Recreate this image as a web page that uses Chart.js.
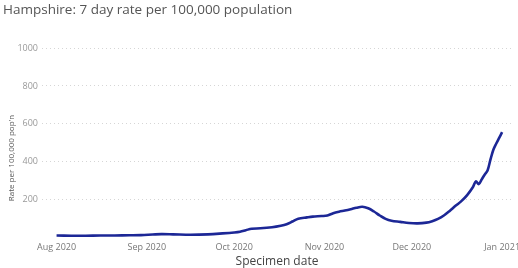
<!DOCTYPE html>
<html lang="en">
<head>
  <meta charset="utf-8">
  <title>Hampshire: 7 day rate per 100,000 population</title>
  <script src="https://cdn.jsdelivr.net/npm/chart.js@4/dist/chart.umd.min.js"></script>
  <style>
    html, body { margin: 0; padding: 0; background: #fff; }
    #wrap { width: 518px; height: 268px; }
  </style>
</head>
<body>
  <div id="wrap"><canvas id="myChart"></canvas></div>

  <script>
    // days counted from 1 Aug 2020
    const days = [0, 5, 10, 15, 20, 25, 29, 33, 36, 40, 46, 52, 57, 61, 63, 65, 67, 70, 74, 77, 79, 81, 83, 86, 88, 91, 93, 95, 97, 99, 101, 103, 105, 107, 109, 111, 113, 115, 118, 121, 124, 127, 129, 131, 133, 135, 137, 139, 141, 143, 144, 145, 146, 147, 148, 149, 150, 151, 152, 153];
    const rates = [8, 7, 7, 8, 8, 9, 10, 13, 15, 14, 12, 14, 19, 24, 28, 36, 44, 46, 52, 60, 68, 82, 97, 104, 108, 111, 114, 126, 134, 140, 147, 155, 160, 152, 135, 114, 96, 86, 80, 74, 72, 76, 84, 96, 114, 138, 165, 190, 222, 265, 295, 280, 305, 330, 352, 410, 462, 495, 525, 555];

    const monthDays = [0, 31, 61, 92, 122, 153];
    const monthLabels = ['Aug 2020', 'Sep 2020', 'Oct 2020', 'Nov 2020', 'Dec 2020', 'Jan 2021'];
    const yTicks = [0, 200, 400, 600, 800, 1000];

    const points = days.map((d, i) => ({ x: d, y: rates[i] }));

    // y axis title, sits a bit below the axis centre like the original
    const yTitle = {
      id: 'yTitle',
      afterDraw(chart) {
        const ctx = chart.ctx;
        ctx.save();
        ctx.translate(12, 158);
        ctx.rotate(-Math.PI / 2);
        ctx.font = '8px "Open Sans"';
        ctx.fillStyle = '#555';
        ctx.textAlign = 'center';
        ctx.textBaseline = 'middle';
        ctx.fillText("Rate per 100,000 pop'n", 0, 0);
        ctx.restore();
      }
    };

    new Chart(document.getElementById('myChart'), {
      type: 'line',
      data: {
        datasets: [{
          data: points,
          borderColor: '#1c2796',
          borderWidth: 2.6,
          pointRadius: 0,
          fill: false,
          tension: 0.35
        }]
      },
      plugins: [yTitle],
      options: {
        responsive: true,
        maintainAspectRatio: false,
        animation: false,
        layout: { padding: { left: 3, right: 6, top: 0, bottom: 0 } },
        plugins: {
          legend: { display: false },
          tooltip: { enabled: false },
          title: {
            display: true,
            align: 'start',
            text: 'Hampshire: 7 day rate per 100,000 population',
            color: '#555',
            font: { family: 'Open Sans', size: 13.5, weight: 'normal' },
            padding: { top: 2, bottom: 30 }
          }
        },
        scales: {
          x: {
            type: 'linear',
            min: -5,
            max: 156.4,
            afterBuildTicks: (scale) => { scale.ticks = monthDays.map(v => ({ value: v })); },
            afterFit: (scale) => { scale.height = 31; scale.paddingLeft = 0; scale.paddingRight = 0; },
            ticks: {
              color: '#777',
              font: { family: 'Open Sans', size: 9 },
              maxRotation: 0,
              padding: 5,
              callback: (v, i) => monthLabels[i]
            },
            grid: { display: false, drawTicks: false },
            border: { display: false },
            title: {
              display: true,
              text: 'Specimen date',
              color: '#444',
              font: { family: 'Open Sans', size: 12, lineHeight: 1 },
              padding: { top: 0, bottom: 0 }
            }
          },
          y: {
            min: 0,
            max: 1000,
            afterBuildTicks: (scale) => { scale.ticks = yTicks.map(v => ({ value: v })); },
            afterFit: (scale) => { scale.width = 39; },
            ticks: {
              color: '#999',
              font: { family: 'Open Sans', size: 9 },
              padding: 4,
              callback: (v) => v === 0 ? '' : v
            },
            grid: {
              color: (ctx) => ctx.tick && ctx.tick.value === 0 ? 'rgba(0,0,0,0)' : '#d6d6d6',
              lineWidth: 1,
              drawTicks: false
            },
            border: { display: false, dash: [1, 3] }
          }
        }
      }
    });
  </script>
</body>
</html>
